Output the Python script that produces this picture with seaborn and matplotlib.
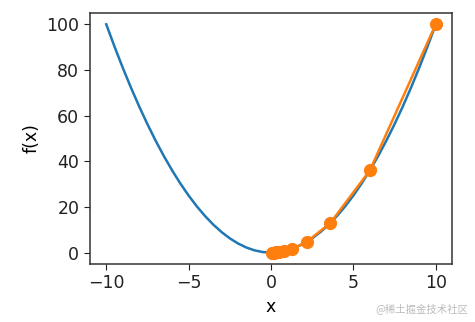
import matplotlib
matplotlib.use("Agg")
import matplotlib.pyplot as plt
import seaborn as sns
import pandas as pd

curve_x = [-10.0, -9.5, -9.0, -8.5, -8.0, -7.5, -7.0, -6.5, -6.0, -5.5, -5.0,
           -4.5, -4.0, -3.5, -3.0, -2.5, -2.0, -1.5, -1.0, -0.5, 0.0,
           0.5, 1.0, 1.5, 2.0, 2.5, 3.0, 3.5, 4.0, 4.5, 5.0,
           5.5, 6.0, 6.5, 7.0, 7.5, 8.0, 8.5, 9.0, 9.5, 9.9]
curve_y = [100.0, 90.25, 81.0, 72.25, 64.0, 56.25, 49.0, 42.25, 36.0, 30.25, 25.0,
           20.25, 16.0, 12.25, 9.0, 6.25, 4.0, 2.25, 1.0, 0.25, 0.0,
           0.25, 1.0, 2.25, 4.0, 6.25, 9.0, 12.25, 16.0, 20.25, 25.0,
           30.25, 36.0, 42.25, 49.0, 56.25, 64.0, 72.25, 81.0, 90.25, 98.01]

# Orange descent path points
path_x = [10.0, 6.0, 3.6, 2.16, 1.296, 0.7776, 0.4666, 0.2799, 0.168, 0.1008, 0.0605]
path_y = [100.0, 36.0, 12.96, 4.666, 1.680, 0.605, 0.218, 0.078, 0.028, 0.010, 0.004]

plt.rcParams['font.family'] = ['DejaVu Sans']
plt.rcParams['font.size'] = 12.5
plt.rcParams['xtick.major.size'] = 4
plt.rcParams['ytick.major.size'] = 4

fig = plt.figure(figsize=(4.75, 3.22), dpi=100)
ax = fig.add_axes([0.189, 0.180, 0.763, 0.780])

curve = pd.DataFrame({"x": curve_x, "y": curve_y})
path = pd.DataFrame({"x": path_x, "y": path_y})

sns.lineplot(data=curve, x="x", y="y", ax=ax, color="#1f77b4", linewidth=1.8,
             sort=False, estimator=None)
sns.lineplot(data=path, x="x", y="y", ax=ax, color="#ff7f0e", linewidth=1.8,
             marker="o", markersize=9.5, markeredgewidth=0, sort=False, estimator=None)

ax.set_xlabel("x")
ax.set_ylabel("f(x)")
ax.set_xticks([-10, -5, 0, 5, 10])
ax.set_xticklabels(["\u221210", "\u22125", "0", "5", "10"])
ax.set_yticks([0, 20, 40, 60, 80, 100])
ax.margins(0.05)
for s in ax.spines.values():
    s.set_color("#333333")
    s.set_linewidth(1.1)
ax.tick_params(colors="#222222")

fig.text(0.985, 0.04, "@稀土掘金技术社区", ha="right", va="center", fontsize=7.5,
         color="#bbbbbb", family=["Noto Sans CJK SC", "DejaVu Sans"])

fig.savefig("out.png", dpi=100)
